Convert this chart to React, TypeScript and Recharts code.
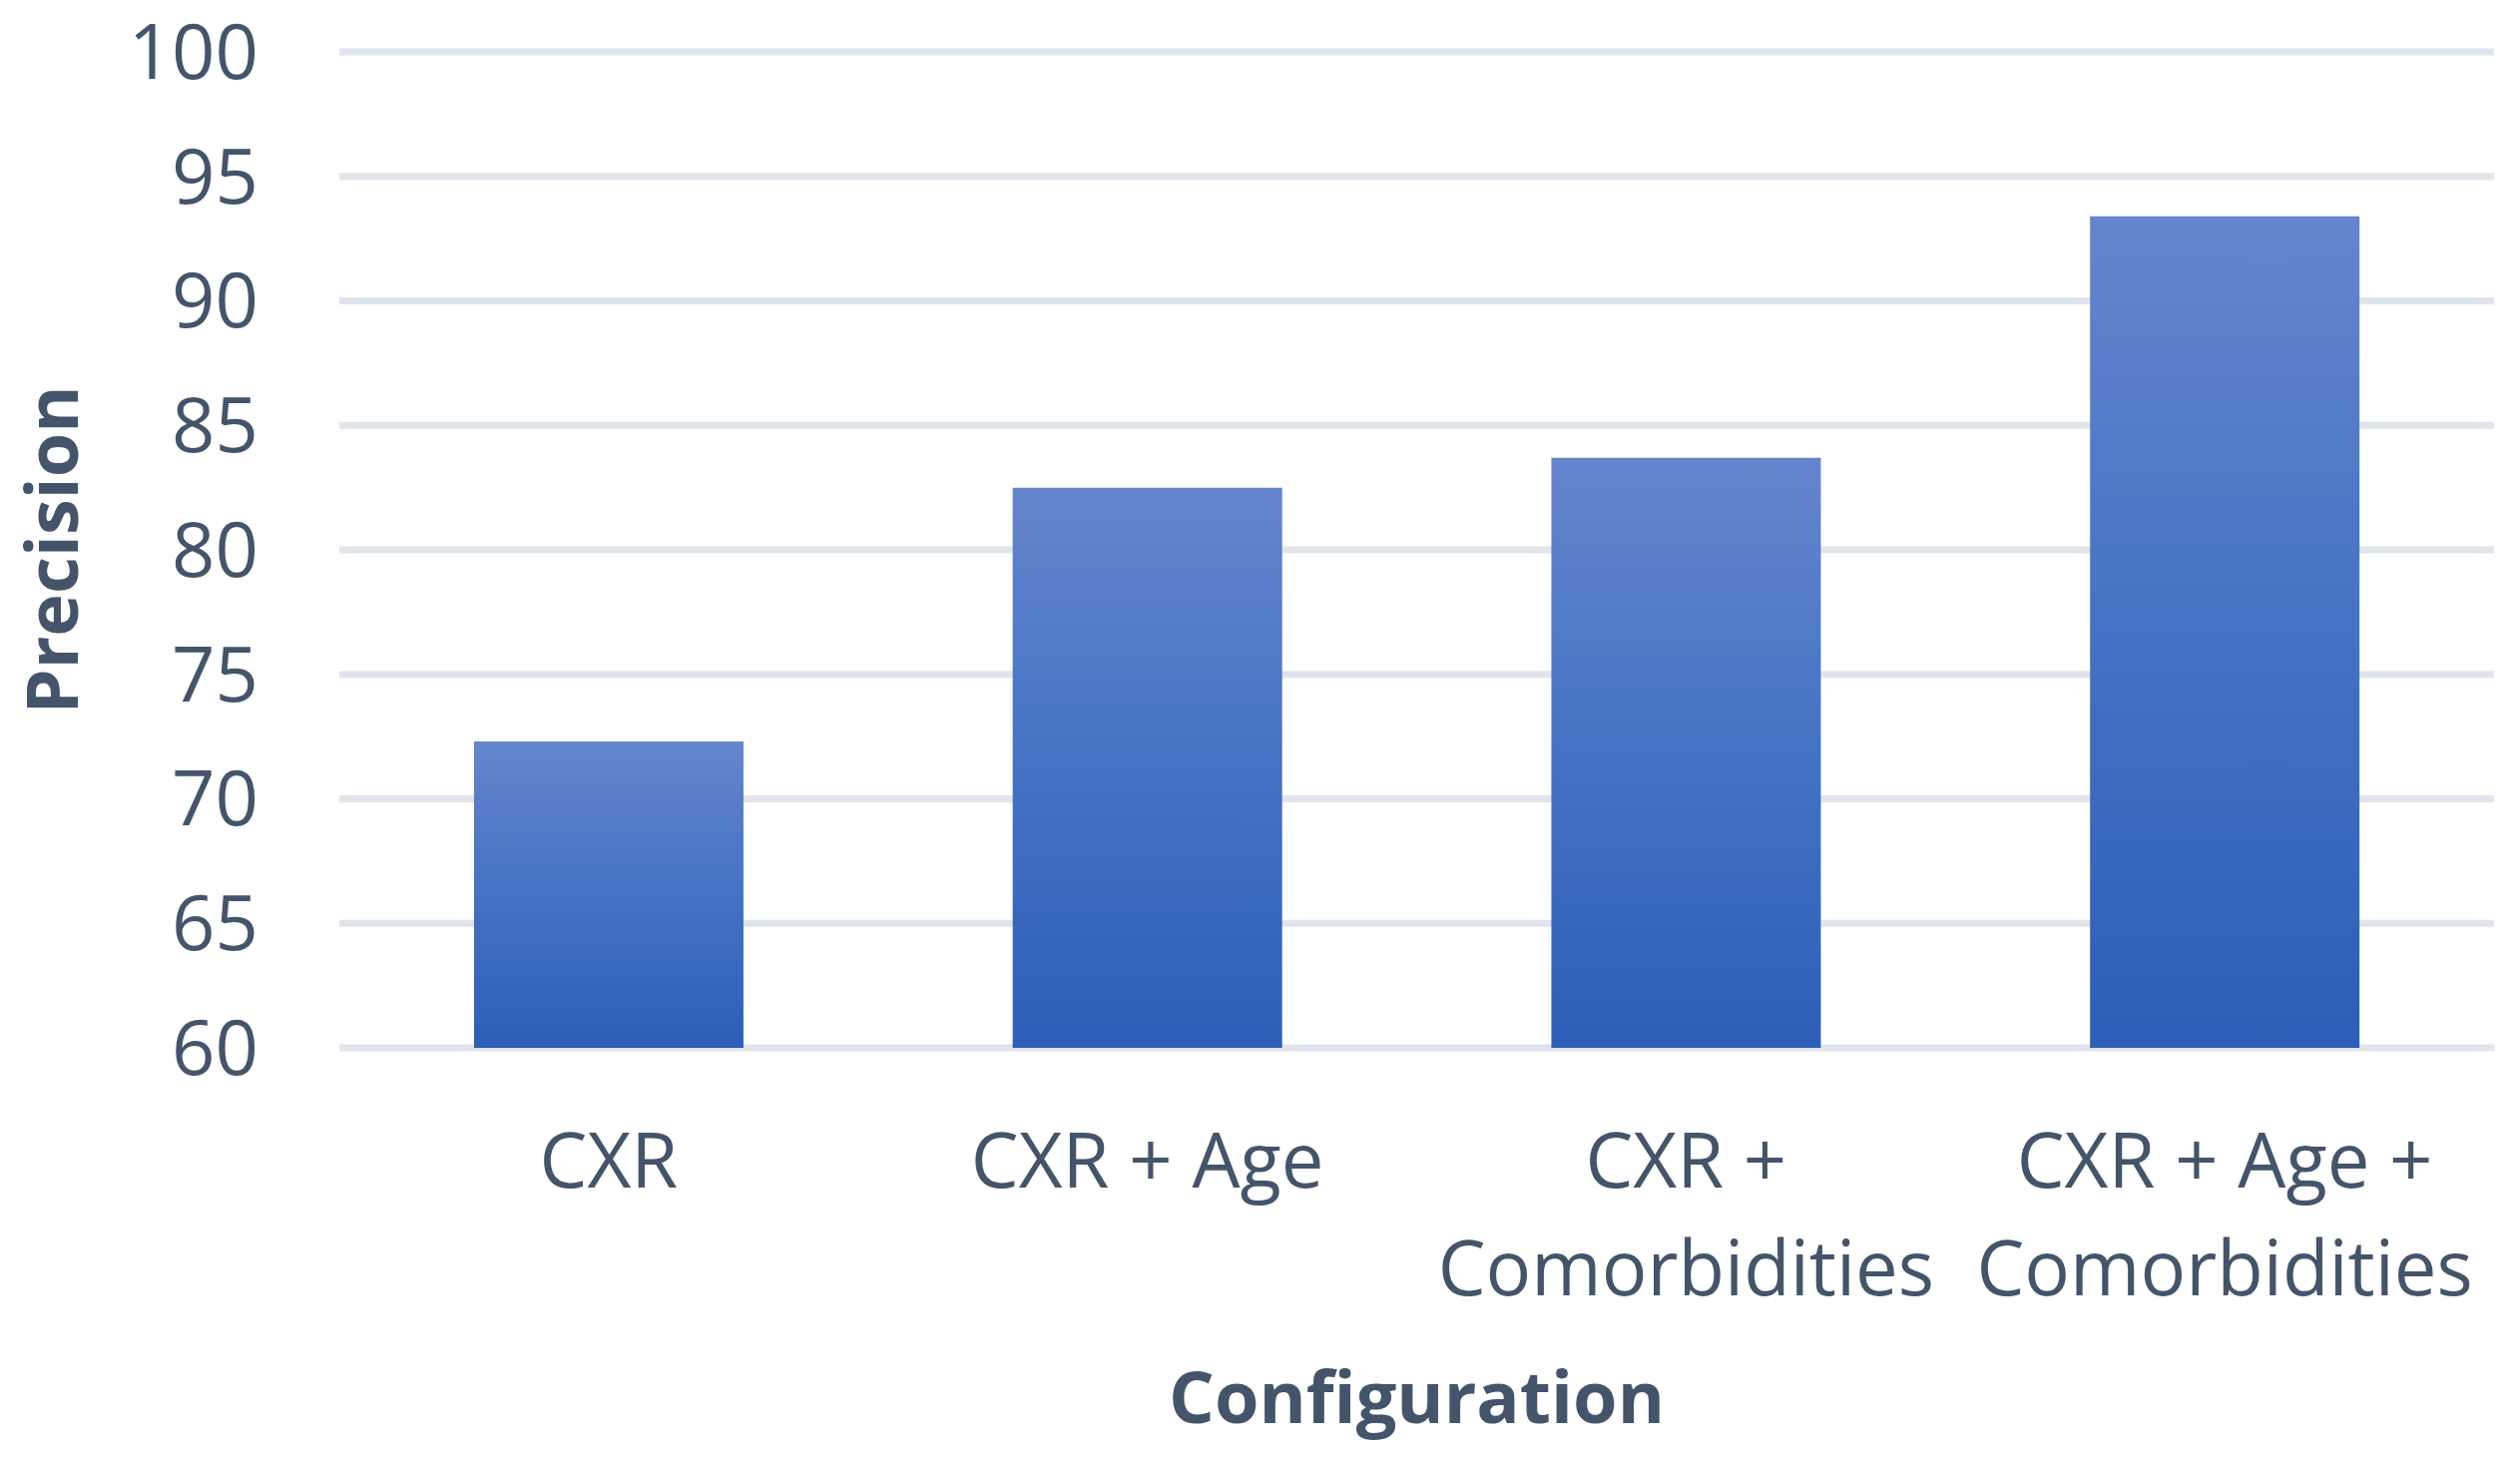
import { BarChart, Bar, XAxis, YAxis, CartesianGrid, Label } from 'recharts';

const categories = ['CXR', 'CXR + Age', 'CXR +\nComorbidities', 'CXR + Age +\nComorbidities'];
const precision = [72.3, 82.5, 83.7, 93.4];
const yTicks = [60, 65, 70, 75, 80, 85, 90, 95, 100];

const chartData = categories.map((name, i) => ({ name, precision: precision[i] }));

const TEXT = '#44546A';
const FONT = '"Open Sans", sans-serif';

const CategoryTick = ({ x, y, payload }: any) => {
  const lines = String(payload.value).split('\n');
  return (
    <text x={x} y={y} textAnchor="middle" fill={TEXT} fontSize={76} fontFamily={FONT}>
      {lines.map((line, i) => (
        <tspan key={i} x={x} dy={i === 0 ? 140 : 108}>
          {line}
        </tspan>
      ))}
    </text>
  );
};

export default function App() {
  return (
    <div style={{ position: 'absolute', left: 0, top: 0, background: '#fff' }}>
      <BarChart
        width={2525}
        height={1462}
        data={chartData}
        margin={{ top: 52, right: 26, bottom: 0, left: 0 }}
        barCategoryGap="25%"
      >
        <defs>
          <linearGradient id="barGrad" x1="0" y1="0" x2="0" y2="1">
            <stop offset="0%" stopColor="#6485CC" />
            <stop offset="50%" stopColor="#4472C4" />
            <stop offset="100%" stopColor="#2D5EB7" />
          </linearGradient>
        </defs>
        <CartesianGrid vertical={false} stroke="#E0E4EB" strokeWidth={7} />
        <XAxis
          dataKey="name"
          height={412}
          axisLine={false}
          tickLine={false}
          tickSize={0}
          tickMargin={0}
          interval={0}
          tick={<CategoryTick />}
        >
          <Label
            content={({ viewBox }: any) => (
              <text
                x={viewBox.x + viewBox.width / 2}
                y={viewBox.y + 376}
                textAnchor="middle"
                fill={TEXT}
                fontSize={72}
                fontWeight="bold"
                fontFamily={FONT}
              >
                Configuration
              </text>
            )}
          />
        </XAxis>
        <YAxis
          width={340}
          domain={[60, 100]}
          ticks={yTicks}
          interval={0}
          axisLine={false}
          tickLine={false}
          tickSize={0}
          tickMargin={81}
          tick={{ fill: TEXT, fontSize: 76, fontFamily: FONT }}
        >
          <Label
            content={({ viewBox }: any) => {
              const cx = 78;
              const cy = viewBox.y + viewBox.height / 2;
              return (
                <text
                  x={cx}
                  y={cy}
                  transform={`rotate(-90 ${cx} ${cy})`}
                  textAnchor="middle"
                  fill={TEXT}
                  fontSize={72}
                  fontWeight="bold"
                  fontFamily={FONT}
                >
                  Precision
                </text>
              );
            }}
          />
        </YAxis>
        <Bar dataKey="precision" fill="url(#barGrad)" isAnimationActive={false} />
      </BarChart>
    </div>
  );
}
